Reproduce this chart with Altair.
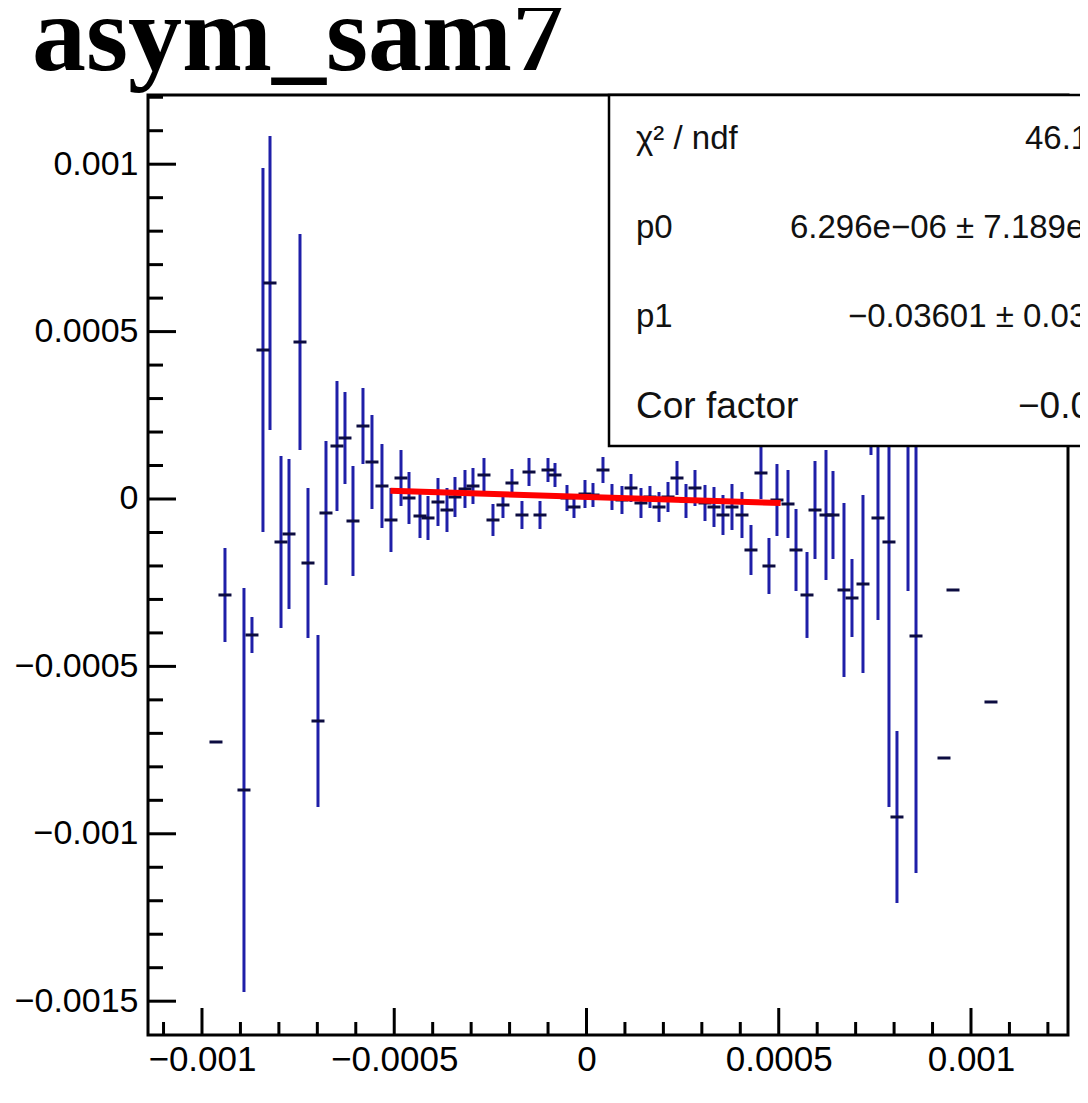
import altair as alt
import pandas as pd

# ---------------- data ----------------
title_text = "asym_sam7"
UNIT = 1e-3  # values below are in units of 1e-3

x_vals = [-0.9636, -0.9402, -0.8908, -0.8700, -0.8414, -0.8231, -0.7945, -0.7737, -0.7451, -0.7243,
          -0.6983, -0.6775, -0.6489, -0.6281, -0.6073, -0.5813, -0.5579, -0.5319, -0.5085, -0.4824,
          -0.4616, -0.4330, -0.4122, -0.3862, -0.3628, -0.3420, -0.3160, -0.2952, -0.2666, -0.2432,
          -0.2172, -0.1938, -0.1678, -0.1495, -0.1209, -0.1001, -0.0819, -0.0507, -0.0325, -0.0039,
          0.0169, 0.0429, 0.0663, 0.0923, 0.1157, 0.1417, 0.1651, 0.1886, 0.2120, 0.2354,
          0.2588, 0.2822, 0.3082, 0.3316, 0.3550, 0.3784, 0.4044, 0.4278, 0.4538, 0.4746,
          0.4954, 0.5241, 0.5449, 0.5735, 0.5943, 0.6229, 0.6411, 0.6697, 0.6905, 0.7191,
          0.7399, 0.7581, 0.7867, 0.8075, 0.8362, 0.8570, 0.9298, 0.9532, 1.0520]

y_vals = [-0.7258, -0.2867, -0.8692, -0.4062, 0.4450, 0.6452, -0.1284, -0.1045, 0.4689, -0.1912,
          -0.6631, -0.0418, 0.1583, 0.1822, -0.0657, 0.2180, 0.1105, 0.0388, -0.0627, 0.0627,
          0.0030, -0.0508, -0.0567, -0.0090, -0.0329, 0.0060, 0.0299, 0.0388, 0.0717, -0.0627,
          -0.0179, 0.0478, -0.0478, 0.0806, -0.0478, 0.0866, 0.0717, 0.0030, -0.0239, 0.0149,
          0.0119, 0.0866, 0.0060, -0.0030, 0.0329, -0.0119, 0.0060, -0.0239, 0.0060, 0.0627,
          -0.0060, 0.0329, -0.0119, -0.0239, -0.0478, -0.0239, -0.0478, -0.1523, 0.0777, -0.2001,
          -0.0030, -0.0149, -0.1523, -0.2867, -0.0329, -0.0478, -0.0478, -0.2718, -0.2957, -0.2539,
          0.2061, -0.0567, -0.1284, -0.9498, 0.2360, -0.4092, -0.7736, -0.2718, -0.6063]

y_errs = [0.0, 0.1404, 0.6033, 0.0538, 0.5436, 0.4391, 0.2569, 0.2240, 0.3226, 0.2240,
          0.2569, 0.2151, 0.1941, 0.1374, 0.1643, 0.1135, 0.1404, 0.1254, 0.0956, 0.0836,
          0.0777, 0.0657, 0.0657, 0.0717, 0.0657, 0.0597, 0.0567, 0.0538, 0.0508, 0.0478,
          0.0388, 0.0418, 0.0418, 0.0418, 0.0418, 0.0358, 0.0358, 0.0388, 0.0329, 0.0418,
          0.0358, 0.0388, 0.0388, 0.0418, 0.0418, 0.0448, 0.0329, 0.0448, 0.0448, 0.0508,
          0.0508, 0.0538, 0.0538, 0.0597, 0.0597, 0.0687, 0.0687, 0.0747, 0.0777, 0.0836,
          0.1075, 0.1016, 0.1225, 0.1284, 0.1464, 0.1941, 0.1314, 0.2599, 0.1165, 0.2658,
          0.0747, 0.3047, 0.7915, 0.2569, 0.5108, 0.7079, 0.0, 0.0, 0.0]

# fit (pol1) parameters shown in the stats box
p0 = 6.296e-06
p1 = -0.03601
fit_range = [-0.00051, 0.000505]

x_major = [-0.001, -0.0005, 0.0, 0.0005, 0.001]
x_minor = [-0.0011, -0.0009, -0.0008, -0.0007, -0.0006, -0.0004, -0.0003, -0.0002, -0.0001,
           0.0001, 0.0002, 0.0003, 0.0004, 0.0006, 0.0007, 0.0008, 0.0009, 0.0011, 0.0012]
y_major = [-0.0015, -0.001, -0.0005, 0.0, 0.0005, 0.001]
y_minor = [-0.0014, -0.0013, -0.0012, -0.0011, -0.0009, -0.0008, -0.0007, -0.0006,
           -0.0004, -0.0003, -0.0002, -0.0001, 0.0001, 0.0002, 0.0003, 0.0004,
           0.0006, 0.0007, 0.0008, 0.0009, 0.0011, 0.0012]

stats_names = ["χ² / ndf", "p0", "p1", "Cor factor"]
stats_values = ["46.1", "6.296e−06 ± 7.189e", "−0.03601 ± 0.03", "−0.0"]

x_domain = [-0.0011404, 0.0012523]
y_domain = [-0.0016010, 0.0012067]

# ---------------- chart ----------------
W, H = 920, 940
BAR = "#1f1fa8"
MARK = "#0c0c40"
FONT = "Liberation Sans"

df = pd.DataFrame({"x": [v * UNIT for v in x_vals],
                   "y": [v * UNIT for v in y_vals],
                   "err": [v * UNIT for v in y_errs]})
df["lo"] = df["y"] - df["err"]
df["hi"] = df["y"] + df["err"]

fit_df = pd.DataFrame({"x": fit_range})
fit_df["y"] = p0 + p1 * fit_df["x"]

xs = alt.Scale(domain=x_domain, nice=False, zero=False)
ys = alt.Scale(domain=y_domain, nice=False, zero=False)

xaxis = alt.Axis(values=x_major, format="~g", ticks=False, domain=False, grid=False,
                 labelFont=FONT, labelFontSize=35, labelColor="black", labelPadding=7,
                 labelFlush=False, labelOverlap=False, title=None)
yaxis = alt.Axis(values=y_major, format="~g", ticks=False, domain=False, grid=False,
                 labelFont=FONT, labelFontSize=34, labelColor="black", labelPadding=10,
                 labelFlush=False, labelOverlap=False, title=None)

X = alt.X("x:Q", scale=xs, axis=xaxis)
Y = alt.Y("y:Q", scale=ys, axis=yaxis)

ytick_major = alt.Chart(pd.DataFrame({"y": y_major})).mark_rule(color="black", strokeWidth=3).encode(
    y=Y, x=alt.value(0), x2=alt.value(28))
ytick_minor = alt.Chart(pd.DataFrame({"y": y_minor})).mark_rule(color="black", strokeWidth=3).encode(
    y=Y, x=alt.value(0), x2=alt.value(15))
xtick_major = alt.Chart(pd.DataFrame({"x": x_major})).mark_rule(color="black", strokeWidth=3).encode(
    x=X, y=alt.value(H), y2=alt.value(H - 27))
xtick_minor = alt.Chart(pd.DataFrame({"x": x_minor})).mark_rule(color="black", strokeWidth=3).encode(
    x=X, y=alt.value(H), y2=alt.value(H - 13))

bars = alt.Chart(df[df["err"] > 0]).mark_rule(color=BAR, strokeWidth=3).encode(
    x=X, y=alt.Y("lo:Q", scale=ys, axis=yaxis), y2="hi:Q")
marks = alt.Chart(df).mark_tick(orient="horizontal", size=13, thickness=3, color=MARK,
                                opacity=1).encode(x=X, y=Y)
fit = alt.Chart(fit_df).mark_line(color="#ff0000", strokeWidth=6).encode(x=X, y=Y)

box = alt.Chart(pd.DataFrame({"k": [0]})).mark_rect(fill="white", stroke="black", strokeWidth=2.5).encode(
    x=alt.value(461), x2=alt.value(1000), y=alt.value(0), y2=alt.value(351))

row_base = [54, 143, 232, 323]
row_size = [33, 33, 33, 37]
val_left = [877, 642, 700, 870]
texts = []
for i in range(4):
    texts.append(alt.Chart(pd.DataFrame({"t": [stats_names[i]]})).mark_text(
        font=FONT, fontSize=row_size[i], align="left", baseline="alphabetic", color="#111111").encode(
        x=alt.value(488), y=alt.value(row_base[i]), text="t:N"))
    texts.append(alt.Chart(pd.DataFrame({"t": [stats_values[i]]})).mark_text(
        font=FONT, fontSize=row_size[i], align="left", baseline="alphabetic", color="#111111").encode(
        x=alt.value(val_left[i]), y=alt.value(row_base[i]), text="t:N"))

title = alt.Chart(pd.DataFrame({"t": [title_text]})).mark_text(
    font="Liberation Serif", fontWeight="bold", fontSize=108, align="left",
    baseline="alphabetic", color="black").encode(
    x=alt.value(-116), y=alt.value(-25), text="t:N")

chart = alt.layer(
    ytick_minor, ytick_major, xtick_minor, xtick_major, bars, marks, fit, box, *texts, title
).properties(
    width=W, height=H,
    autosize=alt.AutoSizeParams(type="none"),
    padding={"left": 140, "top": 87, "right": 12, "bottom": 44},
    background="white",
).configure_view(stroke="black", strokeWidth=3)

chart.save("out.html", embed_options={"renderer": "svg", "actions": False})
